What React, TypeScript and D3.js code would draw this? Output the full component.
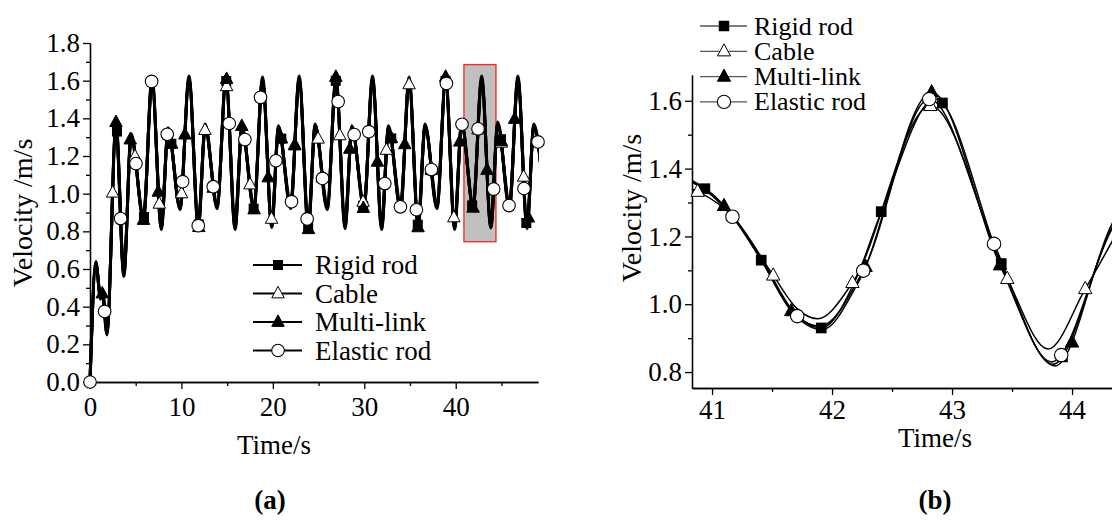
import React, { useEffect, useRef } from "react";
import * as d3 from "d3";

// ---------- shared ----------
const seriesNames = ["Rigid rod", "Cable", "Multi-link", "Elastic rod"];

// ---------- panel (a) data ----------
const tA = [
  0, 0.65, 1.15, 1.35, 1.85, 2.85, 3.7, 4.5, 5.85,
  6.78, 7.8, 8.55, 9.85,
  10.83, 11.85, 12.6, 13.9,
  14.87, 15.87, 16.62, 17.93,
  18.87, 19.88, 20.62, 21.95,
  22.88, 23.88, 24.63, 25.95,
  26.9, 27.9, 28.65, 29.97,
  30.9, 31.9, 32.65, 33.97,
  34.9, 35.9, 36.65, 37.95,
  38.9, 39.88, 40.65, 41.9,
  42.84, 43.84, 44.6, 45.88,
  46.8, 47.8, 48.55, 49.6,
];
const rigidA = [
  0, 0.63, 0.45, 0.48, 0.26, 1.36, 0.57, 1.31, 0.87,
  1.6, 0.82, 1.34, 0.92,
  1.61, 0.83, 1.36, 0.93,
  1.6, 0.82, 1.35, 0.92,
  1.6, 0.83, 1.35, 0.93,
  1.61, 0.82, 1.36, 0.92,
  1.6, 0.83, 1.35, 0.93,
  1.61, 0.82, 1.35, 0.92,
  1.6, 0.83, 1.36, 0.93,
  1.6, 0.82, 1.37, 0.93,
  1.605, 0.823, 1.37, 0.93,
  1.61, 0.83, 1.36, 1.0,
];
const cableA = [
  0, 0.62, 0.46, 0.49, 0.28, 1.33, 0.59, 1.29, 0.89,
  1.58, 0.86, 1.33, 0.95,
  1.59, 0.86, 1.34, 0.955,
  1.58, 0.87, 1.34, 0.95,
  1.585, 0.865, 1.33, 0.96,
  1.59, 0.86, 1.35, 0.955,
  1.58, 0.87, 1.34, 0.95,
  1.59, 0.86, 1.34, 0.955,
  1.58, 0.87, 1.35, 0.96,
  1.585, 0.86, 1.36, 0.957,
  1.585, 0.868, 1.36, 0.955,
  1.59, 0.865, 1.35, 1.02,
];
const multiA = [
  0, 0.64, 0.44, 0.47, 0.25, 1.38, 0.56, 1.32, 0.86,
  1.62, 0.81, 1.35, 0.915,
  1.625, 0.815, 1.37, 0.92,
  1.62, 0.81, 1.36, 0.915,
  1.62, 0.82, 1.36, 0.92,
  1.625, 0.81, 1.37, 0.915,
  1.62, 0.815, 1.36, 0.92,
  1.625, 0.81, 1.36, 0.915,
  1.62, 0.82, 1.37, 0.92,
  1.62, 0.81, 1.38, 0.925,
  1.625, 0.818, 1.38, 0.92,
  1.625, 0.815, 1.37, 0.99,
];
const elasticA = [
  0, 0.62, 0.45, 0.48, 0.27, 1.36, 0.58, 1.31, 0.87,
  1.6, 0.83, 1.34, 0.93,
  1.605, 0.83, 1.35, 0.935,
  1.6, 0.83, 1.35, 0.93,
  1.605, 0.835, 1.35, 0.94,
  1.605, 0.83, 1.36, 0.935,
  1.6, 0.835, 1.35, 0.935,
  1.605, 0.83, 1.35, 0.93,
  1.6, 0.835, 1.36, 0.935,
  1.6, 0.83, 1.37, 0.935,
  1.605, 0.83, 1.365, 0.935,
  1.605, 0.83, 1.36, 1.0,
];
// marker times (symbols sit on each curve)
const rigidAMarks = [2.95, 5.9, 8.9, 11.9, 14.9, 17.9, 20.93, 23.86, 26.88, 29.88, 32.95, 35.85, 38.88, 41.8, 44.95, 47.72];
const cableAMarks = [2.48, 4.92, 7.58, 10.02, 12.57, 14.94, 17.5, 19.86, 22.4, 24.95, 27.32, 29.87, 32.42, 34.9, 37.35, 39.8, 42.44, 44.99, 47.43];
const multiAMarks = [1.34, 2.84, 4.4, 5.85, 7.47, 8.92, 10.38, 11.9, 13.48, 14.94, 16.6, 17.95, 19.49, 20.95, 22.4, 23.9, 25.4, 26.89, 28.42, 29.9, 31.44, 32.97, 34.43, 35.88, 37.34, 38.9, 40.44, 41.9, 43.42, 44.99, 46.45, 47.95];
const elasticAMarks = [0, 1.6, 3.35, 5.03, 6.74, 8.45, 10.13, 11.84, 13.48, 15.23, 16.94, 18.65, 20.33, 22.04, 23.75, 25.43, 27.14, 28.89, 30.49, 32.24, 33.95, 35.7, 37.34, 38.98, 40.69, 42.44, 44.15, 45.83, 47.47, 49.0];

const xTicksA = [0, 10, 20, 30, 40];
const xMinorA = [5, 15, 25, 35, 45];
const yTicksA = [0, 0.2, 0.4, 0.6, 0.8, 1.0, 1.2, 1.4, 1.6, 1.8];
const yMinorA = [0.1, 0.3, 0.5, 0.7, 0.9, 1.1, 1.3, 1.5, 1.7];
const zoomT = [40.9, 44.4];
const zoomV = [0.745, 1.685];

// ---------- panel (b) data ----------
const rigidB: [number, number][] = [[40.55, 1.365], [40.68, 1.372], [41.17, 1.262], [41.41, 1.13], [41.66, 0.985], [41.91, 0.93], [42.2, 1.075], [42.41, 1.273], [42.86, 1.605], [43.41, 1.12], [43.84, 0.823], [44.33, 1.225], [44.6, 1.37]];
const cableB: [number, number][] = [[40.55, 1.35], [40.66, 1.356], [40.88, 1.332], [41.17, 1.26], [41.51, 1.085], [41.7, 0.99], [41.88, 0.957], [42.17, 1.063], [42.82, 1.585], [43.46, 1.075], [43.8, 0.868], [44.11, 1.045], [44.6, 1.36]];
const multiB: [number, number][] = [[40.55, 1.37], [40.67, 1.378], [41.1, 1.29], [41.41, 1.13], [41.66, 0.98], [41.92, 0.925], [42.22, 1.065], [42.83, 1.625], [43.4, 1.115], [43.86, 0.818], [44.33, 1.235], [44.6, 1.38]];
const elasticB: [number, number][] = [[40.55, 1.36], [40.7, 1.37], [41.17, 1.258], [41.41, 1.135], [41.71, 0.965], [41.9, 0.935], [42.26, 1.099], [42.81, 1.605], [43.35, 1.178], [43.83, 0.83], [44.33, 1.22], [44.6, 1.365]];
const rigidBMarks = [40.94, 41.41, 41.91, 42.41, 42.92, 43.41, 43.92];
const cableBMarks = [40.88, 41.51, 42.17, 42.82, 43.46, 44.11];
const multiBMarks = [41.1, 41.66, 42.28, 42.83, 43.4, 44.0];
const elasticBMarks = [41.17, 41.71, 42.26, 42.81, 43.35, 43.91];

const xTicksB = [41, 42, 43, 44];
const xMinorB = [41.5, 42.5, 43.5];
const yTicksB = [0.8, 1.0, 1.2, 1.4, 1.6];
const yMinorB = [0.9, 1.1, 1.3, 1.5];

const FONT = "'Liberation Serif', 'Times New Roman', serif";
const kinds = ["square", "triangleOpen", "triangle", "circle"];

function marker(g: any, kind: string, x: number, y: number, s: number) {
  if (kind === "square") {
    const a = 10 * s;
    g.append("rect").attr("x", x - a / 2).attr("y", y - a / 2).attr("width", a).attr("height", a).attr("fill", "#000");
  } else if (kind === "triangle" || kind === "triangleOpen") {
    const w = 12.5 * s, h = 11.5 * s;
    g.append("path")
      .attr("d", `M${x},${y - h * 0.62}L${x + w / 2},${y + h * 0.38}L${x - w / 2},${y + h * 0.38}Z`)
      .attr("fill", kind === "triangle" ? "#000" : "#fff")
      .attr("stroke", "#000").attr("stroke-width", 1);
  } else {
    g.append("circle").attr("cx", x).attr("cy", y).attr("r", 6.3 * s)
      .attr("fill", "#fff").attr("stroke", "#000").attr("stroke-width", 1.1);
  }
}

function yOnPath(node: SVGPathElement, x: number): number {
  const L = node.getTotalLength();
  let lo = 0, hi = L;
  for (let i = 0; i < 32; i++) {
    const mid = (lo + hi) / 2;
    if (node.getPointAtLength(mid).x < x) lo = mid; else hi = mid;
  }
  return node.getPointAtLength((lo + hi) / 2).y;
}

function drawAxes(svg: any, x: any, y: any, xt: number[], xm: number[], yt: number[], ym: number[], fmtY: any, xPad: number) {
  const x0 = x.range()[0];
  const y0 = y.range()[0];
  const style = (g: any) => {
    g.attr("font-family", FONT);
    g.selectAll("path,line").attr("stroke", "#000").attr("stroke-width", 1.3);
    g.selectAll("text").attr("font-family", FONT).attr("font-size", 27).attr("fill", "#000");
  };
  svg.append("g").attr("transform", `translate(0,${y0})`)
    .call(d3.axisBottom(x).tickValues(xm).tickSize(4).tickSizeOuter(0).tickFormat(() => ""))
    .call(style);
  svg.append("g").attr("transform", `translate(0,${y0})`)
    .call(d3.axisBottom(x).tickValues(xt).tickSize(7).tickSizeOuter(0).tickPadding(xPad).tickFormat(d3.format("d")))
    .call(style);
  svg.append("g").attr("transform", `translate(${x0},0)`)
    .call(d3.axisLeft(y).tickValues(ym).tickSize(4).tickSizeOuter(0).tickFormat(() => ""))
    .call(style);
  svg.append("g").attr("transform", `translate(${x0},0)`)
    .call(d3.axisLeft(y).tickValues(yt).tickSize(7).tickSizeOuter(0).tickPadding(3).tickFormat(fmtY))
    .call(style);
}

function text(svg: any, s: string, x: number, y: number, opts: any = {}) {
  const t = svg.append("text").attr("x", x).attr("y", y).text(s)
    .attr("font-family", FONT).attr("font-size", opts.size || 27).attr("fill", "#000")
    .attr("text-anchor", opts.anchor || "middle").attr("dominant-baseline", "central");
  if (opts.bold) t.attr("font-weight", "bold");
  if (opts.rotate) t.attr("transform", `rotate(-90,${x},${y})`);
  return t;
}

export default function App() {
  const ref = useRef<SVGSVGElement>(null);
  useEffect(() => {
    const svg = d3.select(ref.current);
    svg.selectAll("*").remove();
    const defs = svg.append("defs");

    // ===== panel (a) =====
    const xA = d3.scaleLinear().domain([0, 49]).range([90, 538]);
    const yA = d3.scaleLinear().domain([0, 1.8]).range([382, 43]);
    defs.append("clipPath").attr("id", "clipA").append("rect")
      .attr("x", xA(0) - 2).attr("y", 0).attr("width", xA(49) - xA(0) + 3).attr("height", 400);

    svg.append("rect")
      .attr("x", xA(zoomT[0])).attr("y", yA(zoomV[1]))
      .attr("width", xA(zoomT[1]) - xA(zoomT[0])).attr("height", yA(zoomV[0]) - yA(zoomV[1]))
      .attr("fill", "#c0c0c0").attr("stroke", "#ff2a2a").attr("stroke-width", 1.4);

    const seriesA = [rigidA, cableA, multiA, elasticA];
    const marksA = [rigidAMarks, cableAMarks, multiAMarks, elasticAMarks];
    const lineA = d3.line<number>().x((_, i) => xA(tA[i])).y((d) => yA(d)).curve(d3.curveMonotoneX);
    const gLA = svg.append("g").attr("clip-path", "url(#clipA)");
    const pathsA = seriesA.map((v) =>
      gLA.append("path").attr("d", lineA(v) as string).attr("fill", "none")
        .attr("stroke", "#000").attr("stroke-width", 3).attr("stroke-linejoin", "round").node() as SVGPathElement);

    drawAxes(svg, xA, yA, xTicksA, xMinorA, yTicksA, yMinorA, d3.format(".1f"), 8);

    const gMA = svg.append("g");
    marksA.forEach((ts, k) => ts.forEach((t) => {
      const x = xA(t);
      marker(gMA, kinds[k], x, yOnPath(pathsA[k], x), 1);
    }));

    // legend (a)
    seriesNames.forEach((name, k) => {
      const y = 265 + k * 28.5;
      svg.append("line").attr("x1", 253).attr("x2", 302).attr("y1", y).attr("y2", y)
        .attr("stroke", "#000").attr("stroke-width", 1.8);
      marker(svg, kinds[k], 278, y, 1);
      text(svg, name, 315, y, { anchor: "start" });
    });

    text(svg, "Velocity /m/s", 22, 213, { rotate: true, size: 28 });
    text(svg, "Time/s", 274, 445);
    text(svg, "(a)", 270, 500, { bold: true });

    // ===== panel (b) =====
    const xB = d3.scaleLinear().domain([40.833, 44.333]).range([692, 1112]);
    const yB = d3.scaleLinear().domain([0.753, 1.676]).range([388, 75]);
    defs.append("clipPath").attr("id", "clipB").append("rect")
      .attr("x", 692).attr("y", 0).attr("width", 420).attr("height", 388);

    const seriesB = [rigidB, cableB, multiB, elasticB];
    const marksB = [rigidBMarks, cableBMarks, multiBMarks, elasticBMarks];
    const lineB = d3.line<[number, number]>().x((d) => xB(d[0])).y((d) => yB(d[1])).curve(d3.curveMonotoneX);
    const gLB = svg.append("g").attr("clip-path", "url(#clipB)");
    const pathsB = seriesB.map((v) =>
      gLB.append("path").attr("d", lineB(v) as string).attr("fill", "none")
        .attr("stroke", "#000").attr("stroke-width", 1.5).node() as SVGPathElement);

    drawAxes(svg, xB, yB, xTicksB, xMinorB, yTicksB, yMinorB, d3.format(".1f"), 5);

    const gMB = svg.append("g");
    marksB.forEach((ts, k) => ts.forEach((t) => {
      const x = xB(t);
      marker(gMB, kinds[k], x, yOnPath(pathsB[k], x), 1.07);
    }));

    // legend (b)
    seriesNames.forEach((name, k) => {
      const y = 26 + k * 25.3;
      svg.append("line").attr("x1", 700).attr("x2", 747).attr("y1", y).attr("y2", y)
        .attr("stroke", "#555").attr("stroke-width", 1.3);
      marker(svg, kinds[k], 724, y, 1.05);
      text(svg, name, 754, y, { anchor: "start", size: 26 });
    });

    text(svg, "Velocity /m/s", 631, 208, { rotate: true, size: 28 });
    text(svg, "Time/s", 935, 438);
    text(svg, "(b)", 935, 500, { bold: true });
  }, []);

  return (
    <svg
      ref={ref}
      width={1112}
      height={528}
      style={{ position: "absolute", left: 0, top: 0, background: "#fff", display: "block" }}
    />
  );
}
